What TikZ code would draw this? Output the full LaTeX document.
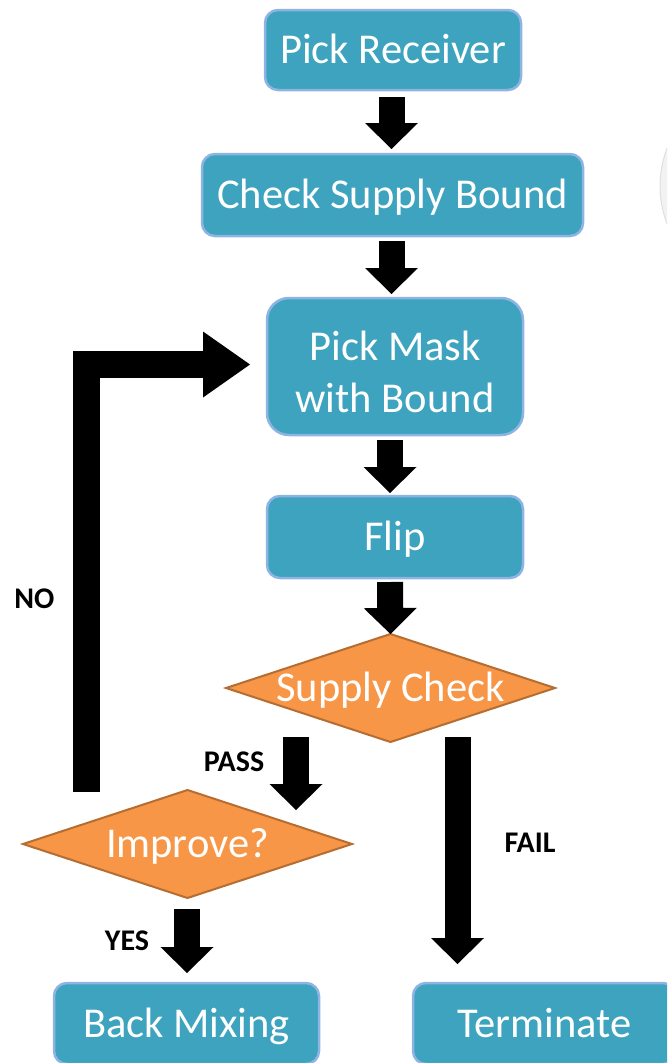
\documentclass[tikz,border=0pt]{standalone}
\usepackage{fontspec}
\setmainfont{Carlito}
\usetikzlibrary{shapes.geometric,arrows.meta,calc}
\definecolor{boxfill}{RGB}{61,163,191}
\definecolor{boxedge}{RGB}{142,180,227}
\definecolor{decfill}{RGB}{247,150,70}
\definecolor{decedge}{RGB}{182,109,49}
\begin{document}
\begin{tikzpicture}[x=1pt,y=-1pt,
  procbox/.style={draw=boxedge, line width=2.5pt, fill=boxfill, rounded corners=13pt,
    text=white, font=\fontsize{42.5}{52}\selectfont, inner sep=0pt, outer sep=0pt,
    text height=27pt, text depth=0pt, align=center},
  decision/.style={diamond, draw=decedge, line width=2pt, fill=decfill, aspect=3.05,
    text=white, font=\fontsize{42.5}{52}\selectfont, inner sep=0pt, outer sep=0pt,
    text height=27pt, text depth=0pt, minimum width=329pt, minimum height=108pt},
  flow/.style={line width=26pt, -{Triangle[width=53pt,length=26pt,line width=0pt]}},
  tag/.style={font=\bfseries\fontsize{30}{36}\selectfont, anchor=base, inner sep=0pt}]
\useasboundingbox (0,0) rectangle (667,1063);
\clip (0,0) rectangle (667,1063);

% faint round object at the right edge
\fill[gray!10, draw=gray!25, line width=1pt] (763,186) circle (103pt);

% process steps
\node[procbox, minimum width=256pt, minimum height=80pt] (recv) at (393,50) {Pick Receiver};
\node[procbox, minimum width=381pt, minimum height=82pt] (bound) at (392.5,195) {Check Supply Bound};
\node[procbox, minimum width=256pt, minimum height=137pt, rounded corners=22pt,
      text height=91pt] (mask) at (395,366.5) {Pick Mask\\with Bound};
\node[procbox, minimum width=256pt, minimum height=82pt] (flip) at (395,537) {Flip};

% decisions
\node[decision] (sc) at (390.5,688) {Supply Check};
\node[decision] (imp) at (187.5,844) {Improve?};

% outcomes
\node[procbox, minimum width=265pt, minimum height=81pt] (back) at (186.5,1023.5) {Back Mixing};
\node[procbox, minimum width=263pt, minimum height=81pt] (term) at (544.5,1023.5) {Terminate};

% main flow
\draw[flow] ($(recv.south)+(-1.5,7)$) -- ($(bound.north)+(-1,-5)$);
\draw[flow] ($(bound.south)+(-1,5)$) -- ($(mask.north)+(-3.5,-4)$);
\draw[flow] ($(mask.south)+(-5,5)$) -- ($(flip.north)+(-5,-3)$);
\draw[flow] ($(flip.south)+(-5,4)$) -- (sc.north);

% branches
\draw[flow] ($(sc.south)+(-94.5,-5)$) -- ($(imp.north)+(108.5,20)$);
\draw[flow] ($(sc.south)+(67,-5)$) -- ($(term.north)+(-87,-19)$);
\draw[flow] ($(imp.south)+(-0.5,11)$) -- ($(back.north)+(0.5,-10)$);
\draw[line width=27pt, -{Triangle[width=66pt,length=47pt,line width=0pt]}]
  ($(imp.north)+(-101,2)$) |- ($(mask.west)+(-17,-2)$);

% branch labels
\node[tag] (no) at (34.5,608) {NO};
\node[tag] (pass) at (234,771) {PASS};
\node[tag] (fail) at (530,852) {FAIL};
\node[tag] (yes) at (127,950) {YES};
\end{tikzpicture}
\end{document}
